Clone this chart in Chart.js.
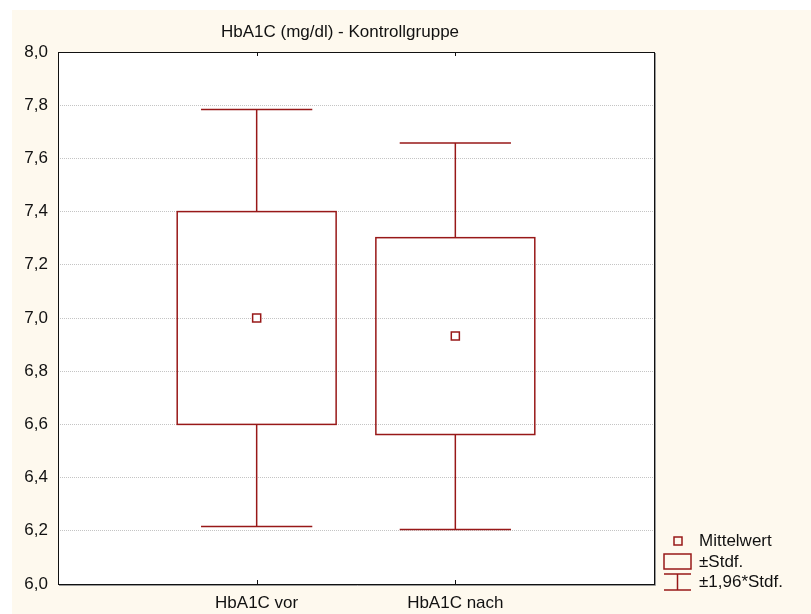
<!DOCTYPE html>
<html>
<head>
<meta charset="utf-8">
<script src="https://cdn.jsdelivr.net/npm/chart.js@4.4.1/dist/chart.umd.min.js"></script>
<style>
  html, body { margin: 0; padding: 0; background: #fff; }
  #wrap { position: absolute; left: 12px; top: 10px; width: 799px; height: 604px; background: #fef9ee; }
</style>
</head>
<body>
<div id="wrap"><canvas id="box" width="799" height="604"></canvas></div>
<script>
const title = 'HbA1C (mg/dl) - Kontrollgruppe';
const categories = ['HbA1C vor', 'HbA1C nach'];
const means = [7.00, 6.932];
const boxLow = [6.60, 6.562];      // Mittelwert - Stdf.
const boxHigh = [7.40, 7.302];     // Mittelwert + Stdf.
const whiskerLow = [6.216, 6.205]; // Mittelwert - 1,96*Stdf.
const whiskerHigh = [7.784, 7.658];
const legendLabels = ['Mittelwert', '±Stdf.', '±1,96*Stdf.'];

const RED = '#981818';
const FONT = '"Liberation Sans", Arial, sans-serif';

const boxPlot = {
  id: 'boxPlot',
  beforeDraw(chart) {
    const { ctx, chartArea: a } = chart;
    ctx.save();
    ctx.fillStyle = '#fff';
    ctx.fillRect(a.left, a.top, a.right - a.left, a.bottom - a.top);
    ctx.restore();
  },
  beforeDatasetsDraw(chart) {
    const { ctx, scales: { x, y } } = chart;
    ctx.save();
    ctx.strokeStyle = RED;
    ctx.lineWidth = 1.5;
    categories.forEach((c, i) => {
      const cx = x.getPixelForValue(i + 1);
      const bl = x.getPixelForValue(i + 1 - 0.4), br = x.getPixelForValue(i + 1 + 0.4);
      const cl = x.getPixelForValue(i + 1 - 0.28), cr = x.getPixelForValue(i + 1 + 0.28);
      const yb1 = y.getPixelForValue(boxHigh[i]), yb0 = y.getPixelForValue(boxLow[i]);
      const yw1 = y.getPixelForValue(whiskerHigh[i]), yw0 = y.getPixelForValue(whiskerLow[i]);
      ctx.beginPath();
      ctx.moveTo(cx, yw1); ctx.lineTo(cx, yb1);
      ctx.moveTo(cx, yb0); ctx.lineTo(cx, yw0);
      ctx.moveTo(cl, yw1); ctx.lineTo(cr, yw1);
      ctx.moveTo(cl, yw0); ctx.lineTo(cr, yw0);
      ctx.stroke();
      ctx.strokeRect(bl, yb1, br - bl, yb0 - yb1);
    });
    ctx.restore();
  },
  afterDraw(chart) {
    const { ctx, chartArea: a, scales: { x } } = chart;
    ctx.save();
    // frame + shadow
    ctx.strokeStyle = '#999';
    ctx.lineWidth = 1;
    ctx.beginPath();
    ctx.moveTo(a.right + 1.5, a.top + 1); ctx.lineTo(a.right + 1.5, a.bottom + 1.5);
    ctx.lineTo(a.left + 1, a.bottom + 1.5);
    ctx.stroke();
    ctx.strokeStyle = '#111';
    ctx.strokeRect(Math.round(a.left) + 0.5, Math.round(a.top) + 0.5,
      Math.round(a.right - a.left), Math.round(a.bottom - a.top));
    // category ticks inside top and bottom
    ctx.beginPath();
    categories.forEach((c, i) => {
      const px = Math.round(x.getPixelForValue(i + 1)) + 0.5;
      ctx.moveTo(px, a.top); ctx.lineTo(px, a.top + 4);
      ctx.moveTo(px, a.bottom); ctx.lineTo(px, a.bottom - 4);
    });
    ctx.stroke();
    // title
    ctx.fillStyle = '#111';
    ctx.font = '17px ' + FONT;
    ctx.textAlign = 'center';
    ctx.textBaseline = 'alphabetic';
    ctx.fillText(title, 328, 27);
    // legend
    const lx = a.right + 10;
    const tx = lx + 35;
    ctx.textAlign = 'left';
    ctx.fillText(legendLabels[0], tx, a.bottom - 38);
    ctx.fillText(legendLabels[1], tx, a.bottom - 17);
    ctx.fillText(legendLabels[2], tx, a.bottom + 3);
    ctx.strokeStyle = RED;
    ctx.lineWidth = 1.5;
    ctx.strokeRect(lx + 10, a.bottom - 47, 8, 8);
    ctx.strokeRect(lx, a.bottom - 30, 27, 15);
    ctx.beginPath();
    ctx.moveTo(lx, a.bottom - 10); ctx.lineTo(lx + 27, a.bottom - 10);
    ctx.moveTo(lx, a.bottom + 6); ctx.lineTo(lx + 27, a.bottom + 6);
    ctx.moveTo(lx + 13.5, a.bottom - 10); ctx.lineTo(lx + 13.5, a.bottom + 6);
    ctx.stroke();
    ctx.restore();
  }
};

new Chart(document.getElementById('box'), {
  type: 'scatter',
  data: {
    datasets: [{
      label: 'Mittelwert',
      data: means.map((m, i) => ({ x: i + 1, y: m })),
      pointStyle: 'rect',
      pointRadius: 5.7,
      pointBorderWidth: 1.5,
      borderColor: RED,
      backgroundColor: '#fff'
    }]
  },
  options: {
    responsive: false,
    animation: false,
    layout: { padding: { top: 42, right: 157, bottom: 0, left: 0 } },
    plugins: { legend: { display: false }, tooltip: { enabled: false }, title: { display: false } },
    scales: {
      x: {
        type: 'linear', min: 0, max: 3,
        grid: { display: false, drawTicks: false },
        border: { display: false },
        afterFit: (s) => { s.height = 30; },
        ticks: {
          stepSize: 1, padding: 9, color: '#111', maxRotation: 0, autoSkip: false,
          font: { family: FONT, size: 17 },
          callback: (v) => categories[v - 1] || ''
        }
      },
      y: {
        min: 6, max: 8,
        grid: { color: '#c4c4c4', drawTicks: false },
        border: { display: false, dash: [1, 1] },
        afterFit: (s) => { s.width = 46; },
        ticks: {
          stepSize: 0.2, padding: 10, color: '#111',
          font: { family: FONT, size: 17 },
          callback: (v) => v.toFixed(1).replace('.', ',')
        }
      }
    }
  },
  plugins: [boxPlot]
});
</script>
</body>
</html>
